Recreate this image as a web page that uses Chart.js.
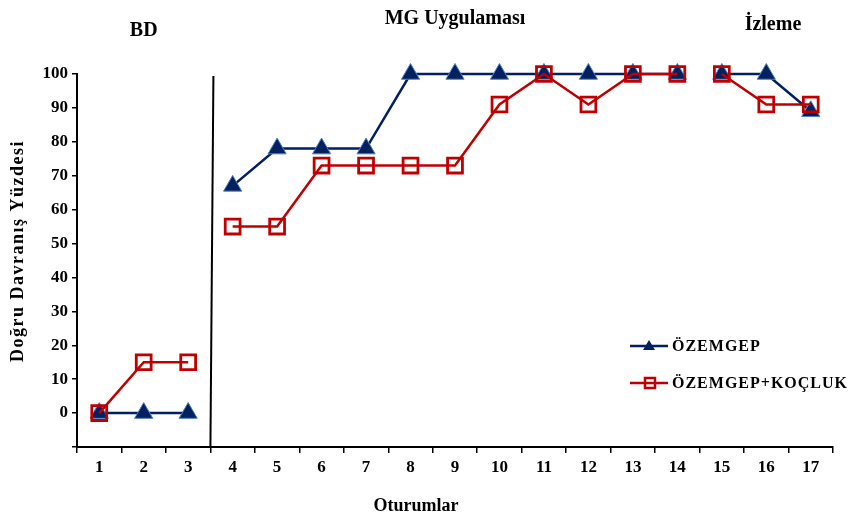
<!DOCTYPE html>
<html lang="tr">
<head>
<meta charset="UTF-8">
<title>Doğru Davranış Yüzdesi</title>
<script src="https://cdn.jsdelivr.net/npm/chart.js"></script>
<style>
  html, body { margin: 0; padding: 0; background: #fff; }
  #wrap { position: relative; width: 850px; height: 518px; }
</style>
</head>
<body>
<div id="wrap"><canvas id="chart" width="850" height="518"></canvas></div>
<script>
// sessions
const sessions = ['1','2','3','4','5','6','7','8','9','10','11','12','13','14','15','16','17'];
// series
const ozemgep = [0, 0, 0, 67, 78, 78, 78, 100, 100, 100, 100, 100, 100, 100, 100, 100, 89];
const ozemgepKocluk = [0, 15, 15, 55, 55, 73, 73, 73, 73, 91, 100, 91, 100, 100, 100, 91, 91];
// phase labels: [text, session index the label sits above, baseline y]
const phases = [['BD', 1, 36], ['MG Uygulaması', 8, 24], ['İzleme', 15.15, 30]];
// no connecting line after these session indexes (phase changes / gap)
const breaks = [2, 13];

const BLUE = '#002060';
const RED = '#C00000';
const SERIF = '"Liberation Serif", "Times New Roman", serif';

const gapSegment = color => ctx => breaks.includes(ctx.p0DataIndex) ? 'rgba(0,0,0,0)' : color;

const decor = {
  id: 'decor',
  afterDatasetsDraw(chart) {
    const { ctx, chartArea, scales } = chart;
    const x = scales.x;
    ctx.save();
    // phase separator between session 3 and 4
    const sx = (x.getPixelForValue(2) + x.getPixelForValue(3)) / 2;
    ctx.strokeStyle = '#000';
    ctx.lineWidth = 2;
    ctx.beginPath();
    ctx.moveTo(sx + 3, chartArea.top + 2);
    ctx.lineTo(sx, chartArea.bottom);
    ctx.stroke();

    // phase titles
    ctx.fillStyle = '#000';
    ctx.font = 'bold 20px ' + SERIF;
    ctx.textAlign = 'center';
    ctx.textBaseline = 'alphabetic';
    phases.forEach(([t, i, y]) => ctx.fillText(t, x.getPixelForValue(i), y));

    // axis titles
    ctx.font = 'bold 18px ' + SERIF;
    ctx.fillText('Oturumlar', 416, 511);
    ctx.save();
    ctx.translate(18, 251);
    ctx.rotate(-Math.PI / 2);
    ctx.textBaseline = 'middle';
    ctx.letterSpacing = '1.5px';
    ctx.fillText('Doğru Davranış Yüzdesi', 0, 0);
    ctx.restore();

    // legend
    ctx.font = 'bold 16px ' + SERIF;
    ctx.letterSpacing = '1px';
    ctx.textAlign = 'left';
    ctx.textBaseline = 'middle';
    ctx.lineWidth = 2.5;
    ctx.strokeStyle = BLUE;
    ctx.beginPath(); ctx.moveTo(630, 346); ctx.lineTo(668, 346); ctx.stroke();
    ctx.fillStyle = BLUE;
    ctx.beginPath(); ctx.moveTo(649, 340); ctx.lineTo(655, 350); ctx.lineTo(643, 350); ctx.closePath(); ctx.fill();
    ctx.fillStyle = '#000';
    ctx.fillText('ÖZEMGEP', 672, 347);

    ctx.strokeStyle = RED;
    ctx.beginPath(); ctx.moveTo(630, 383); ctx.lineTo(668, 383); ctx.stroke();
    ctx.strokeRect(645, 378, 10, 10);
    ctx.fillText('ÖZEMGEP+KOÇLUK', 672, 384);
    ctx.restore();
  }
};

new Chart(document.getElementById('chart'), {
  type: 'line',
  data: {
    labels: sessions,
    datasets: [
      {
        label: 'ÖZEMGEP',
        data: ozemgep,
        order: 1,
        clip: false,
        borderColor: BLUE,
        borderWidth: 2.5,
        segment: { borderColor: gapSegment(BLUE) },
        pointStyle: 'triangle',
        pointRadius: 10.5,
        pointBackgroundColor: BLUE,
        pointBorderColor: '#4F81BD',
        pointBorderWidth: 1,
        tension: 0
      },
      {
        label: 'ÖZEMGEP+KOÇLUK',
        data: ozemgepKocluk,
        order: 0,
        clip: false,
        borderColor: RED,
        borderWidth: 2.5,
        segment: { borderColor: gapSegment(RED) },
        pointStyle: 'rect',
        pointRadius: 10.5,
        pointBackgroundColor: 'rgba(0,0,0,0)',
        pointBorderColor: RED,
        pointBorderWidth: 2.8,
        tension: 0
      }
    ]
  },
  options: {
    responsive: false,
    animation: false,
    layout: { padding: { top: 74, right: 17, left: 0, bottom: 0 } },
    plugins: { legend: { display: false }, tooltip: { enabled: false } },
    scales: {
      x: {
        offset: true,
        afterFit: s => { s.height = 71; },
        grid: { offset: true, drawOnChartArea: false, drawTicks: true, tickLength: 6, color: '#000', lineWidth: 1.5 },
        border: { display: true, color: '#000', width: 2 },
        ticks: { color: '#000', padding: 4, maxRotation: 0, autoSkip: false, font: { family: SERIF, size: 17, weight: 'bold' } }
      },
      y: {
        min: -10,
        max: 100,
        afterFit: s => { s.width = 77; },
        grid: { drawOnChartArea: false, drawTicks: true, tickLength: 5, color: '#000', lineWidth: 1.5 },
        border: { display: true, color: '#000', width: 2 },
        ticks: {
          stepSize: 10,
          color: '#000',
          padding: 4,
          font: { family: SERIF, size: 17, weight: 'bold' },
          callback: v => v < 0 ? '' : v
        }
      }
    }
  },
  plugins: [decor]
});
</script>
</body>
</html>
